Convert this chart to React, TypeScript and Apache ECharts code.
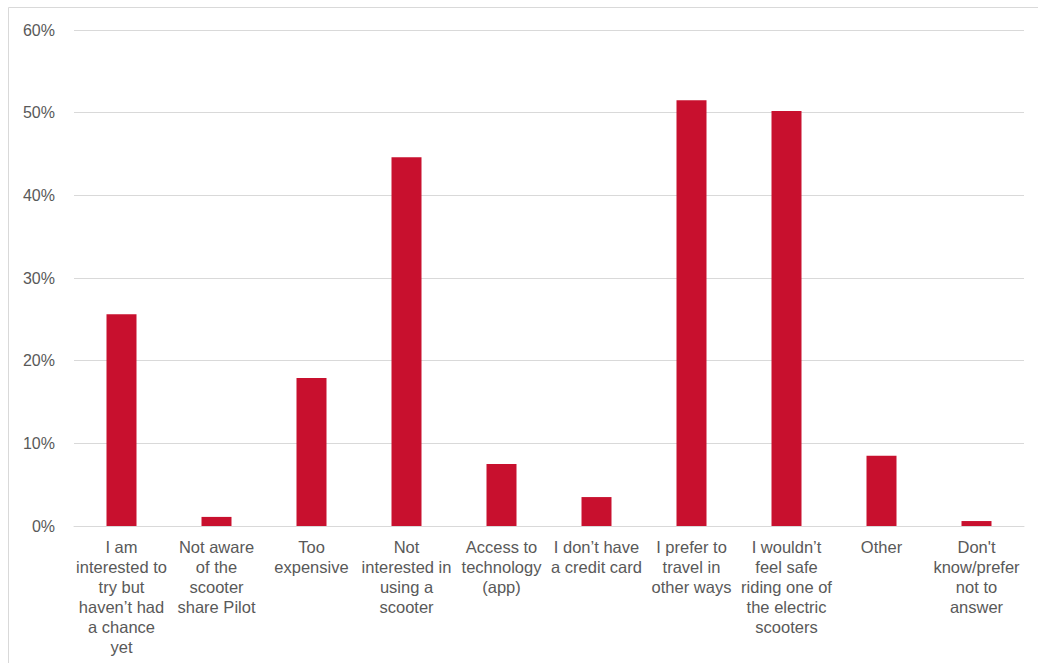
import React, { useEffect, useRef } from "react";
import * as echarts from "echarts";

const categories: string[] = [
  "I am\ninterested to\ntry but\nhaven’t had\na chance\nyet",
  "Not aware\nof the\nscooter\nshare Pilot",
  "Too\nexpensive",
  "Not\ninterested in\nusing a\nscooter",
  "Access to\ntechnology\n(app)",
  "I don’t have\na credit card",
  "I prefer to\ntravel in\nother ways",
  "I wouldn’t\nfeel safe\nriding one of\nthe electric\nscooters",
  "Other",
  "Don't\nknow/prefer\nnot to\nanswer",
];

const values: number[] = [25.6, 1.1, 17.9, 44.6, 7.5, 3.5, 51.5, 50.2, 8.5, 0.6];

const yTicks = { min: 0, max: 60, interval: 10 };

export default function App() {
  const ref = useRef<HTMLDivElement>(null);
  useEffect(() => {
    if (!ref.current) return;
    const chart = echarts.init(ref.current, null, { renderer: "svg" });
    chart.setOption({
      animation: false,
      backgroundColor: "#ffffff",
      textStyle: { fontFamily: "Liberation Sans, Arial, sans-serif" },
      graphic: [
        {
          type: "rect",
          shape: { x: 8.5, y: 7.5, width: 1100, height: 700 },
          style: { fill: "none", stroke: "#d9d9d9", lineWidth: 1 },
          silent: true,
        },
      ],
      grid: { left: 74, right: 14, top: 30, bottom: 137 },
      xAxis: {
        type: "category",
        data: categories,
        axisLine: { show: true, lineStyle: { color: "#d9d9d9", width: 1 } },
        axisTick: { show: false },
        axisLabel: {
          interval: 0,
          color: "#595959",
          fontSize: 16.5,
          lineHeight: 20,
          margin: 11,
          align: "center",
        },
      },
      yAxis: {
        type: "value",
        min: yTicks.min,
        max: yTicks.max,
        interval: yTicks.interval,
        axisLine: { show: false },
        axisTick: { show: false },
        splitLine: { lineStyle: { color: "#d9d9d9", width: 1 } },
        axisLabel: {
          color: "#595959",
          fontSize: 16,
          margin: 19,
          formatter: (v: number) => `${v}%`,
        },
      },
      series: [
        {
          type: "bar",
          data: values,
          barWidth: 30,
          itemStyle: { color: "#C8102E" },
        },
      ],
    });
    return () => chart.dispose();
  }, []);
  return (
    <div
      ref={ref}
      style={{ position: "fixed", left: 0, top: 0, width: 1038, height: 663 }}
    />
  );
}
